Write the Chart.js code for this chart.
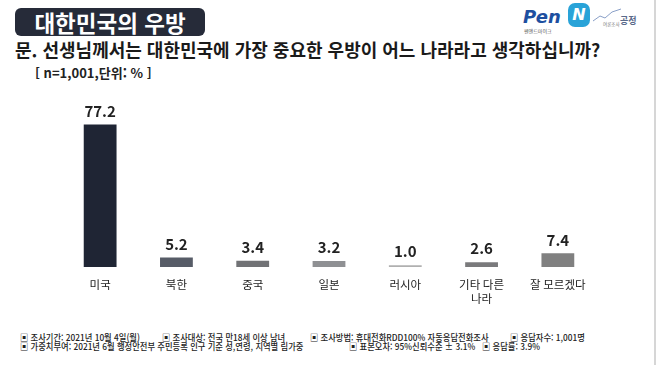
<!DOCTYPE html>
<html lang="ko">
<head>
<meta charset="UTF-8">
<title>대한민국의 우방</title>
<script src="https://cdn.jsdelivr.net/npm/chart.js"></script>
<style>
  body { margin: 0; width: 657px; height: 365px; background: #fff; position: relative; overflow: hidden;
         font-family: "Noto Sans CJK KR", "Noto Sans", sans-serif; color: #222; }
  .titlebox { position: absolute; left: 15px; top: 8px; width: 190px; height: 28px; background: #262b39;
              border-radius: 6px; color: #fff; font-weight: bold; font-size: 22.5px; line-height: 28px; text-align: center; }
  .question { position: absolute; left: 15px; top: 36px; font-weight: bold; font-size: 18px; color: #1a1a1a; white-space: nowrap; }
  .unit { position: absolute; left: 35px; top: 63px; font-weight: bold; font-size: 13px; color: #222; }
  .note { position: absolute; font-size: 9px; line-height: 11px; font-weight: 500; color: #222; white-space: nowrap;
          transform: scaleX(0.92); transform-origin: 0 0; }
  .frame { position: absolute; right: 1px; top: 0; width: 2px; height: 365px; background: #d6d6d6; }
  .pen { position: absolute; left: 523px; top: 6px; font-weight: 900; font-style: italic; font-size: 18px; color: #1e4fa0; font-family: "DejaVu Sans", sans-serif; }
  .pensub { position: absolute; left: 524px; top: 27px; font-size: 5px; color: #555; }
  .nbox { position: absolute; left: 568px; top: 3px; width: 22px; height: 24px; border-radius: 7px; background: #29a3d8;
          color: #fff; font-weight: 900; font-style: italic; font-size: 16px; text-align: center; line-height: 24px; font-family: "DejaVu Sans", sans-serif; }
  .gong { position: absolute; left: 620px; top: 14px; font-size: 9px; font-weight: bold; color: #5a6a8a; }
  .gongsub { position: absolute; left: 603px; top: 21px; font-size: 4.5px; color: #777; }
  #wrap { position: absolute; left: 62px; top: 100px; width: 534px; height: 215px; }
</style>
</head>
<body>
<div class="titlebox">대한민국의 우방</div>
<div class="question">문. 선생님께서는 대한민국에 가장 중요한 우방이 어느 나라라고 생각하십니까?</div>
<div class="unit">[ n=1,001,단위: % ]</div>

<div class="pen">Pen</div>
<div class="pensub">펜앤드마이크</div>
<div class="nbox">N</div>
<svg style="position:absolute;left:592px;top:8px" width="30" height="14">
  <polyline points="1,13 8,8 13,10 20,4 29,1" fill="none" stroke="#8aa0c8" stroke-width="1"/>
</svg>
<div class="gongsub">여론조사</div>
<div class="gong">공정</div>

<div id="wrap"><canvas id="friendChart"></canvas></div>

<div class="note" style="left:20px;top:332px">▣ 조사기간: 2021년 10월 4일(월)</div>
<div class="note" style="left:162px;top:332px">▣ 조사대상: 전국 만18세 이상 남녀</div>
<div class="note" style="left:310px;top:332px">▣ 조사방법: 휴대전화RDD100% 자동응답전화조사</div>
<div class="note" style="left:510px;top:332px">▣ 응답자수: 1,001명</div>
<div class="note" style="left:20px;top:341px">▣ 가중치부여: 2021년 6월 행정안전부 주민등록 인구 기준 성,연령, 지역별 림가중</div>
<div class="note" style="left:349px;top:341px">▣ 표본오차: 95%신뢰수준 ± 3.1%</div>
<div class="note" style="left:482px;top:341px">▣ 응답률: 3.9%</div>

<div class="frame"></div>

<script>
// data
const countries = ['미국', '북한', '중국', '일본', '러시아', ['기타 다른', '나라'], '잘 모르겠다'];
const percents = [77.2, 5.2, 3.4, 3.2, 1.0, 2.6, 7.4];
const barColors = ['#1f2534', '#575c67', '#717275', '#8f9093', '#b0b0b0', '#7a7a7c', '#808080'];

// value labels on top of each bar
const valueLabels = {
    id: 'valueLabels',
    afterDatasetsDraw(chart) {
        const ctx = chart.ctx;
        const meta = chart.getDatasetMeta(0);
        ctx.save();
        ctx.font = 'bold 15px "Noto Sans CJK KR", sans-serif';
        ctx.fillStyle = '#222';
        ctx.textAlign = 'center';
        ctx.textBaseline = 'bottom';
        meta.data.forEach((bar, i) => {
            ctx.fillText(percents[i].toFixed(1), bar.x, bar.y - 6);
        });
        ctx.restore();
    }
};

new Chart(document.getElementById('friendChart'), {
    type: 'bar',
    data: {
        labels: countries,
        datasets: [{
            data: percents,
            backgroundColor: barColors,
            barPercentage: 0.43,
            categoryPercentage: 1
        }]
    },
    options: {
        responsive: true,
        maintainAspectRatio: false,
        animation: false,
        layout: { padding: { top: 10, left: 0, right: 0, bottom: 0 } },
        plugins: { legend: { display: false }, tooltip: { enabled: false } },
        scales: {
            x: {
                grid: { display: false },
                border: { display: false },
                ticks: {
                    color: '#222',
                    font: { size: 11.5, family: '"Noto Sans CJK KR", sans-serif' },
                    padding: 3,
                    maxRotation: 0,
                    autoSkip: false
                },
                afterFit: s => { s.height = 48; }
            },
            y: {
                display: false,
                min: 0,
                max: 85
            }
        }
    },
    plugins: [valueLabels]
});
</script>
</body>
</html>
